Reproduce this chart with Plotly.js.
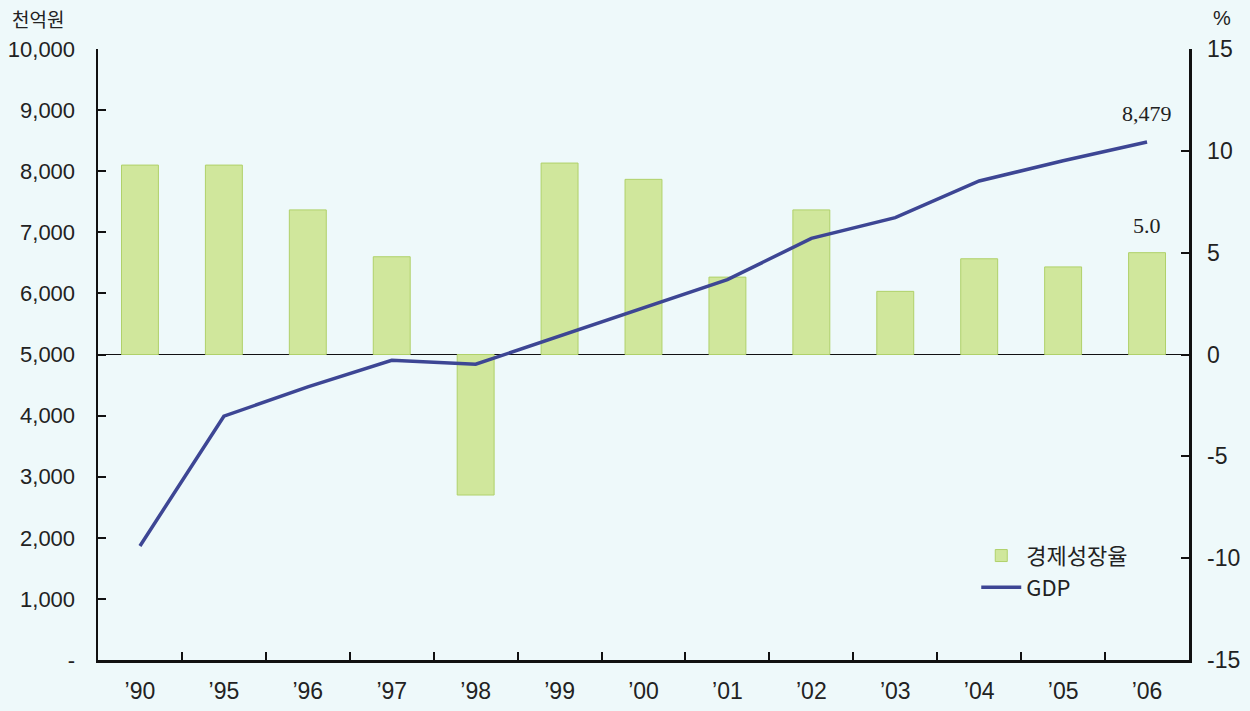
<!DOCTYPE html>
<html>
<head>
<meta charset="utf-8">
<script src="https://cdn.plot.ly/plotly-3.0.1.min.js"></script>
<style>
html,body{margin:0;padding:0;background:#eef9fa;}
#chart{width:1250px;height:711px;}
</style>
</head>
<body>
<div id="chart"></div>
<script>
// Data
const years = ["’90","’95","’96","’97","’98","’99","’00","’01","’02","’03","’04","’05","’06"];
const growthRate = [9.3, 9.3, 7.1, 4.8, -6.9, 9.4, 8.6, 3.8, 7.1, 3.1, 4.7, 4.3, 5.0]; // %
const gdp = [1867, 3990, 4470, 4905, 4840, 5300, 5770, 6225, 6900, 7240, 7840, 8170, 8479]; // 천억원
const leftTickVals = [0,1000,2000,3000,4000,5000,6000,7000,8000,9000,10000];
const leftTickText = ["-","1,000","2,000","3,000","4,000","5,000","6,000","7,000","8,000","9,000","10,000"];
const rightTickVals = [-15,-10,-5,0,5,10,15];
const rightTickText = ["-15","-10","-5","0","5","10","15"];

const font = "'Liberation Sans', Arial, sans-serif";
const cjk = "'Noto Sans CJK KR', 'Liberation Sans', sans-serif";
const serif = "'Liberation Serif', 'Times New Roman', serif";

const traces = [
  {
    type: "bar",
    name: "경제성장율",
    x: years,
    y: growthRate,
    yaxis: "y",
    width: 0.44,
    marker: {color: "#d0e79c", line: {color: "#b0d16a", width: 1}},
    hoverinfo: "x+y"
  },
  {
    type: "scatter",
    mode: "lines",
    name: "GDP",
    x: years,
    y: gdp,
    yaxis: "y2",
    line: {color: "#3d4694", width: 3.5},
    hoverinfo: "x+y"
  }
];

const lastIdx = years.length - 1;

const layout = {
  width: 1250,
  height: 711,
  paper_bgcolor: "#eef9fa",
  plot_bgcolor: "#eef9fa",
  margin: {l: 98, r: 61, t: 49, b: 51},
  showlegend: true,
  legend: {
    x: 0.805, y: 0.205, xanchor: "left", yanchor: "top",
    bgcolor: "rgba(0,0,0,0)",
    font: {family: cjk, size: 22, color: "#222"},
    tracegroupgap: 0,
    itemwidth: 40
  },
  xaxis: {
    type: "category",
    range: [-0.5, 12.5],
    showline: true, linecolor: "#111", linewidth: 2.5,
    ticks: "inside", tickson: "boundaries", ticklen: 8, tickwidth: 2, tickcolor: "#111",
    tickfont: {family: font, size: 23, color: "#222"},
    ticklabelstandoff: 9,
    showgrid: false, zeroline: false
  },
  yaxis: {
    side: "right",
    range: [-15, 15],
    tickvals: rightTickVals, ticktext: rightTickText,
    showline: true, linecolor: "#111", linewidth: 2.5,
    ticks: "inside", ticklen: 8, tickwidth: 2, tickcolor: "#111",
    tickfont: {family: font, size: 23, color: "#222"},
    ticklabelstandoff: 11,
    showgrid: false,
    zeroline: true, zerolinecolor: "#111", zerolinewidth: 1.5
  },
  yaxis2: {
    overlaying: "y",
    side: "left",
    range: [0, 10000],
    tickvals: leftTickVals, ticktext: leftTickText,
    showline: true, linecolor: "#111", linewidth: 2.5,
    ticks: "inside", ticklen: 8, tickwidth: 2, tickcolor: "#111",
    tickfont: {family: font, size: 22, color: "#222"},
    ticklabelstandoff: 16,
    showgrid: false, zeroline: false
  },
  annotations: [
    {xref: "paper", yref: "paper", x: -0.081, y: 1.05, xanchor: "left", yanchor: "middle",
     text: "천억원", showarrow: false, font: {family: cjk, size: 19, color: "#222"}},
    {xref: "paper", yref: "paper", x: 1.03, y: 1.05, xanchor: "center", yanchor: "middle",
     text: "%", showarrow: false, font: {family: font, size: 20, color: "#222"}},
    {x: years[lastIdx], y: gdp[lastIdx], xref: "x", yref: "y2", yshift: 28, showarrow: false,
     text: "8,479", font: {family: serif, size: 22, color: "#222"}},
    {x: years[lastIdx], y: growthRate[lastIdx], xref: "x", yref: "y", yshift: 27, showarrow: false,
     text: "5.0", font: {family: serif, size: 22, color: "#222"}}
  ]
};

Plotly.newPlot("chart", traces, layout, {displayModeBar: false, staticPlot: true});
</script>
</body>
</html>
